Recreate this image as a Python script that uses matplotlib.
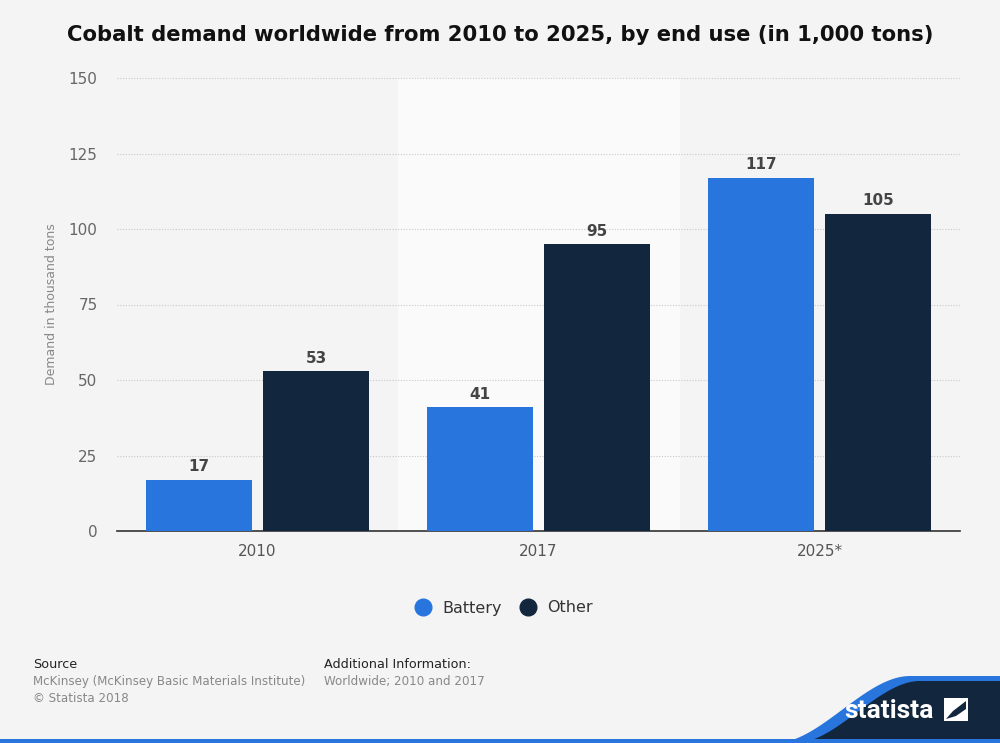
import matplotlib.pyplot as plt
import numpy as np
from matplotlib.patches import Polygon, Rectangle

years = ["2010", "2017", "2025*"]
battery = [17, 41, 117]
other = [53, 95, 105]
series_names = ["Battery", "Other"]
yticks = [0, 25, 50, 75, 100, 125, 150]

BLUE = "#2876dd"
NAVY = "#12263d"
BG = "#f4f4f4"

fig = plt.figure(figsize=(10, 7.43), dpi=100, facecolor=BG)
ax = fig.add_axes([0.117, 1 - 531 / 743, 0.843, (531 - 78) / 743])
ax.set_facecolor(BG)

x = np.arange(len(years))
width = 0.377
off = 0.208

# lighter band behind the middle category
ax.axvspan(0.5, 1.5, color="#fafafa", zorder=0)

b1 = ax.bar(x - off, battery, width, color=BLUE, zorder=3)
b2 = ax.bar(x + off, other, width, color=NAVY, zorder=3)

for bars, vals in [(b1, battery), (b2, other)]:
    for rect, v in zip(bars, vals):
        ax.text(rect.get_x() + rect.get_width() / 2, v + 1.8, f"{v}",
                ha="center", va="bottom", fontsize=11, fontweight="bold", color="#444444")

ax.set_xlim(-0.5, 2.5)
ax.set_ylim(0, 150)
ax.set_yticks(yticks)
ax.set_xticks(x)
ax.set_xticklabels(years)
ax.yaxis.grid(True, linestyle=(0, (1, 1.5)), color="#c8c8c8", linewidth=0.8, zorder=1)
ax.set_axisbelow(True)
for s in ["top", "right", "left"]:
    ax.spines[s].set_visible(False)
ax.spines["bottom"].set_color("#333333")
ax.spines["bottom"].set_linewidth(1.2)
ax.tick_params(axis="y", length=0, labelsize=11, labelcolor="#666666", pad=14)
ax.tick_params(axis="x", length=0, labelsize=11, labelcolor="#555555", pad=9)
ax.set_ylabel("Demand in thousand tons", fontsize=9, color="#888888", labelpad=8)

fig.text(0.5, 1 - 35 / 743, "Cobalt demand worldwide from 2010 to 2025, by end use (in 1,000 tons)",
         ha="center", va="center", fontsize=15.2, fontweight="bold", color="#111111")

# legend
handles = [plt.Line2D([], [], marker="o", linestyle="", markersize=12, color=c)
           for c in (BLUE, NAVY)]
fig.legend(handles, series_names, loc="center", bbox_to_anchor=(0.5, 1 - 608 / 743),
           ncol=2, frameon=False, fontsize=11.5, handletextpad=0.2, columnspacing=0.6,
           labelcolor="#333333")

# footer
fig.text(0.033, 1 - 665 / 743, "Source", fontsize=9.2, color="#222222", va="center")
fig.text(0.033, 1 - 682 / 743, "McKinsey (McKinsey Basic Materials Institute)",
         fontsize=8.6, color="#888888", va="center")
fig.text(0.033, 1 - 698 / 743, "\u00a9 Statista 2018", fontsize=8.6, color="#888888", va="center")
fig.text(0.324, 1 - 665 / 743, "Additional Information:", fontsize=9.2, color="#222222", va="center")
fig.text(0.324, 1 - 682 / 743, "Worldwide; 2010 and 2017", fontsize=8.6, color="#888888", va="center")

# statista logo band
ov = fig.add_axes([0, 0, 1, 1], facecolor="none")
ov.set_xlim(0, 1000)
ov.set_ylim(743, 0)
ov.axis("off")
t = np.linspace(0, 1, 80)
s = 3 * t**2 - 2 * t**3
blue_edge = list(zip(775 + 135 * t, 743 - 67 * s))
ov.add_patch(Polygon(blue_edge + [(1000, 676), (1000, 743)], closed=True, color=BLUE, lw=0))
navy_edge = list(zip(795 + 125 * t, 743 - 62 * s))
ov.add_patch(Polygon(navy_edge + [(1000, 681), (1000, 743)], closed=True, color=NAVY, lw=0))
ov.add_patch(Rectangle((0, 739), 1000, 4, color=BLUE, lw=0))
ov.text(889, 711, "statista", fontsize=19, fontweight="bold", family="Roboto",
        color="white", ha="center", va="center")
ov.add_patch(Rectangle((944, 698), 24, 23, color="white", lw=0))
ov.add_patch(Polygon([(946, 719), (953, 711), (966, 701), (966, 709), (956, 716)],
                     closed=True, color=NAVY, lw=0))

fig.savefig("out.png", dpi=100, facecolor=BG)
